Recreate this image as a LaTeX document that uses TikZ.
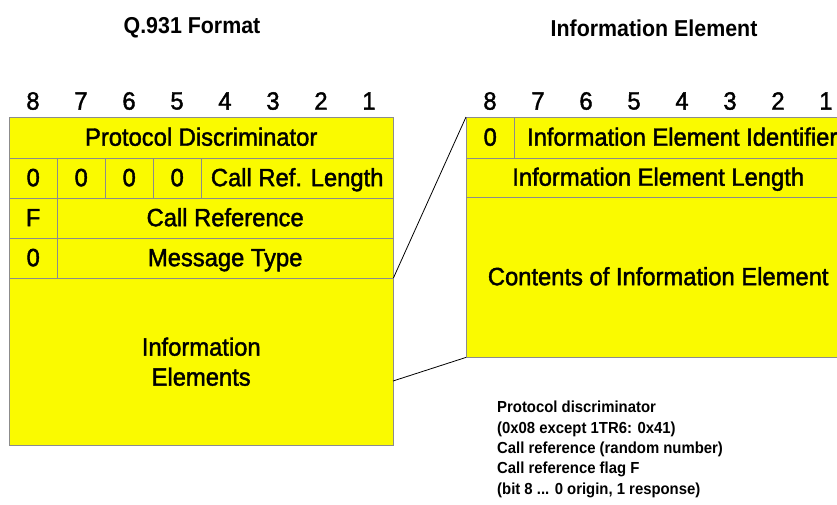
\documentclass[tikz,border=0pt]{standalone}
\usepackage{fontspec}
\setmainfont{Liberation Sans}[FakeStretch=0.93]
\newfontfamily\cellfont{Liberation Sans}[FakeStretch=0.95, FakeBold=1.6]
\usepackage{xcolor}
\usepackage{tikz}
\usetikzlibrary{positioning}

\definecolor{boxyellow}{RGB}{250,250,0}
\definecolor{boxline}{RGB}{140,140,140}

\begin{document}
\begin{tikzpicture}[x=1pt, y=-1pt,
		cell/.style={draw=boxline, fill=boxyellow, anchor=north west, inner sep=0pt,
			minimum width=#1, text height=20pt, text depth=4pt,
			font=\cellfont\fontsize{25}{30}\selectfont},
		cell/.default=48pt,
		bitnum/.style={font=\cellfont\fontsize{25}{30}\selectfont},
		title/.style={font=\fontsize{23}{28}\selectfont\bfseries}]
	\useasboundingbox (0,0) rectangle (837,504);

	% titles
	\node[title] (qtitle) at (192,28) {Q.931 Format};
	\node[title] (ietitle) at (654,28) {Information Element};

	% bit numbers
	\foreach \b [count=\i from 0] in {8,7,...,1} {
		\node[bitnum] (lb\b) at (33+48*\i,101) {\b};
		\node[bitnum] (rb\b) at (490+48*\i,101) {\b};
	}

	% Q.931 message
	\node[cell=384pt, minimum height=41pt] (pd) at (9,117) {Protocol Discriminator};

	\node[cell, minimum height=40pt] (z8) at (9,158) {0};
	\node[cell, minimum height=40pt] (z7) at (57,158) {0};
	\node[cell, minimum height=40pt] (z6) at (105,158) {0};
	\node[cell, minimum height=40pt] (z5) at (153,158) {0};
	\node[cell=192pt, minimum height=40pt] (crl) at (201,158) {Call Ref. Length};

	\node[cell, minimum height=40pt] (flag) at (9,198) {F};
	\node[cell=336pt, minimum height=40pt] (cr) at (57,198) {Call Reference};

	\node[cell, minimum height=40pt] (mt0) at (9,238) {0};
	\node[cell=336pt, minimum height=40pt] (mt) at (57,238) {Message Type};

	\node[cell=384pt, minimum height=167pt, text height=, text depth=, align=center] (ie) at (9,278) {Information\\Elements};

	% information element
	\node[cell, minimum height=41pt] (id0) at (466,117) {0};
	\node[cell=336pt, minimum height=41pt] (iid) at (514,117) {Information Element Identifier};
	\node[cell=384pt, minimum height=39pt] (iel) at (466,158) {Information Element Length};
	\node[cell=384pt, minimum height=160pt] (iec) at (466,197) {Contents of Information Element};

	% zoom lines
	\coordinate (iecut) at (393,381);
	\draw[thick] (ie.north east) -- (id0.north west);
	\draw[thick] (iecut) -- (iec.south west);

	% notes
	\node[anchor=north west, inner sep=0pt, align=left,
		font=\fontsize{16}{20.3}\selectfont\bfseries] (notes) at (497,401)
		{Protocol discriminator\\
		(0x08 except 1TR6: 0x41)\\
		Call reference (random number)\\
		Call reference flag F\\
		(bit 8 ... 0  origin, 1 response)};
\end{tikzpicture}
\end{document}
